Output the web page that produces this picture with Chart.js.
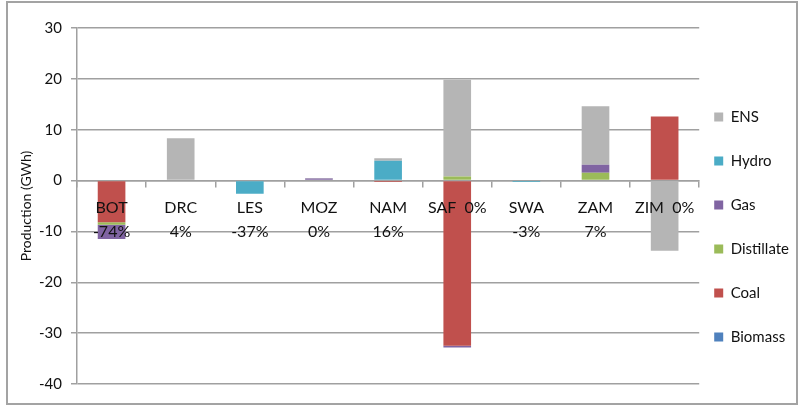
<!DOCTYPE html>
<html>
<head>
<meta charset="utf-8">
<script src="https://cdn.jsdelivr.net/npm/chart.js@4/dist/chart.umd.min.js"></script>
<style>
  html, body { margin: 0; padding: 0; background: #fff; }
  #wrap { position: relative; width: 799px; height: 406px; }
  #frame { position: absolute; left: 6px; top: 1px; width: 792px; height: 404px; box-sizing: border-box; border: 2px solid #a3a3a3; pointer-events: none; }
</style>
</head>
<body>
<div id="wrap">
  <canvas id="c" width="799" height="406"></canvas>
  <div id="frame"></div>
</div>
<script>
// ---- data ----
const categories = ['BOT', 'DRC', 'LES', 'MOZ', 'NAM', 'SAF', 'SWA', 'ZAM', 'ZIM'];
const changeLabels = ['-74%', '4%', '-37%', '0%', '16%', '0%', '-3%', '7%', '0%'];
const singleLineCategories = ['SAF', 'ZIM'];

const biomass    = [0, 0, 0, 0, 0, 0, 0, 0, 0];
const coal       = [-8.2, 0, 0, 0, -0.3, -32.5, 0, 0, 12.6];
const distillate = [-0.5, 0, 0, 0, 0, 0.8, 0, 1.55, 0];
const gas        = [-2.8, 0, 0, 0.4, 0, -0.3, 0, 1.55, 0];
const hydro      = [0, 0, -2.6, 0, 3.9, 0, -0.3, 0, 0];
const ens        = [0, 8.3, 0, 0.1, 0.5, 19.0, 0, 11.5, -13.8];

const yTicks = { min: -40, max: 30, step: 10 };

// ---- chart ----
const labels = categories.map((c, i) =>
  singleLineCategories.includes(c) ? c + '  ' + changeLabels[i] : [c, changeLabels[i]]);

const FONT = 'Lato, "Open Sans", sans-serif';
const GRID = '#a0a0a0';

const series = [
  { label: 'Biomass', data: biomass, color: '#4f81bd' },
  { label: 'Coal', data: coal, color: '#c0504d' },
  { label: 'Distillate', data: distillate, color: '#9bbb59' },
  { label: 'Gas', data: gas, color: '#8064a2' },
  { label: 'Hydro', data: hydro, color: '#4bacc6' },
  { label: 'ENS', data: ens, color: '#b5b5b5' }
];

new Chart(document.getElementById('c'), {
  type: 'bar',
  data: {
    labels: labels,
    datasets: series.map(s => ({
      label: s.label,
      data: s.data,
      backgroundColor: s.color,
      borderWidth: 0,
      barPercentage: 0.4,
      categoryPercentage: 1.0
    }))
  },
  options: {
    responsive: false,
    animation: false,
    layout: { padding: { top: 28, bottom: 22, left: 0, right: 0 } },
    plugins: {
      tooltip: { enabled: false },
      legend: {
        position: 'right',
        align: 'start',
        reverse: true,
        title: { display: true, text: '', font: { size: 10, lineHeight: 1 }, padding: { top: 56.5, bottom: 0 } },
        labels: {
          boxWidth: 9,
          boxHeight: 9,
          padding: 15,
          color: '#111',
          font: { family: FONT, size: 15, lineHeight: 29 / 15 },
          generateLabels: (chart) => {
            const items = Chart.defaults.plugins.legend.labels.generateLabels(chart);
            return items.map(it => Object.assign({}, it, { text: [it.text], lineWidth: 0 }));
          }
        }
      }
    },
    scales: {
      x: {
        type: 'category',
        stacked: true,
        position: { y: 0 },
        offset: true,
        grid: { display: true, drawOnChartArea: false, drawTicks: true, tickLength: 6, color: GRID, lineWidth: 1.5, offset: true },
        border: { display: true, color: GRID, width: 1.5 },
        ticks: {
          z: 1,
          autoSkip: false,
          maxRotation: 0,
          minRotation: 0,
          padding: 10,
          color: '#111',
          font: { family: FONT, size: 16, lineHeight: 1.45 }
        }
      },
      y: {
        stacked: true,
        min: yTicks.min,
        max: yTicks.max,
        afterFit: (scale) => { scale.width = 77; },
        grid: { color: GRID, lineWidth: 1.5, drawTicks: true, tickLength: 6 },
        border: { display: true, color: GRID, width: 1.5 },
        ticks: {
          stepSize: yTicks.step,
          padding: 9,
          color: '#111',
          font: { family: FONT, size: 15 }
        },
        title: {
          display: true,
          text: 'Production (GWh)',
          color: '#111',
          font: { family: FONT, size: 14, lineHeight: 1.2 },
          padding: { top: 18, bottom: 0 }
        }
      }
    }
  }
});
</script>
</body>
</html>
